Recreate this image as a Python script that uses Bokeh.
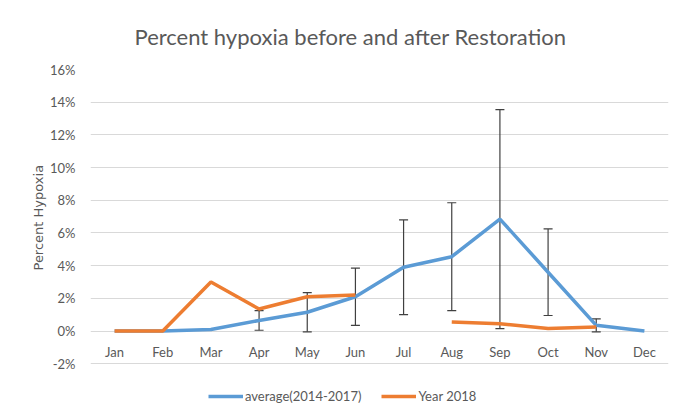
from bokeh.plotting import figure
from bokeh.models import (ColumnDataSource, FactorRange, Range1d, Whisker, TeeHead,
                          PrintfTickFormatter, Legend, LegendItem, FixedTicker, Title)
from bokeh.core.properties import value
from bokeh.embed import file_html
from bokeh.resources import INLINE

months = ["Jan", "Feb", "Mar", "Apr", "May", "Jun", "Jul", "Aug", "Sep", "Oct", "Nov", "Dec"]
average = [0.0, 0.0, 0.1, 0.65, 1.15, 2.1, 3.9, 4.55, 6.85, 3.6, 0.35, 0.0]
avg_err_months = ["Apr", "May", "Jun", "Jul", "Aug", "Sep", "Oct", "Nov"]
avg_err_mean = [0.65, 1.15, 2.1, 3.9, 4.55, 6.85, 3.6, 0.35]
avg_err = [0.6, 1.2, 1.75, 2.9, 3.3, 6.7, 2.65, 0.4]
year2018 = [0.0, 0.0, 3.0, 1.35, 2.1, 2.2, float("nan"), 0.55, 0.45, 0.15, 0.25, float("nan")]
y_ticks = [-2, 0, 2, 4, 6, 8, 10, 12, 14, 16]

FONT = "Lato"
GRAY = "#595959"
BLUE = "#5B9BD5"
ORANGE = "#ED7D31"

# y range extends below -2% so that the legend can sit inside the frame, under the last gridline
p = figure(width=670, height=412, x_range=FactorRange(*months), y_range=Range1d(-4.86, 16),
           output_backend="svg", toolbar_location=None,
           min_border_left=90, min_border_right=2, min_border_top=67, min_border_bottom=2)

p.title.text = "Percent hypoxia before and after Restoration"
p.title.text_font = FONT
p.title.text_font_size = "22px"
p.title.text_font_style = "normal"
p.title.text_color = GRAY
p.title.align = "left"
p.title.offset = 44
p.title.standoff = 40

p.outline_line_color = None
p.xaxis.visible = False
p.xgrid.grid_line_color = None
p.ygrid.grid_line_color = "#d9d9d9"
p.ygrid.grid_line_width = 1

yax = p.yaxis[0]
yax.ticker = FixedTicker(ticks=y_ticks)
yax.formatter = PrintfTickFormatter(format="%d%%")
yax.axis_line_color = None
yax.major_tick_line_color = None
yax.minor_tick_line_color = None
yax.major_label_text_font = FONT
yax.major_label_text_font_size = "13px"
yax.major_label_text_color = GRAY
yax.major_label_standoff = 9

ylabel = Title(text="Percent Hypoxia", align="left", offset=140, standoff=4,
               text_font="DejaVu Sans", text_font_size="13px", text_font_style="normal",
               text_color=GRAY)
p.add_layout(ylabel, "left")

src = ColumnDataSource(dict(month=months, avg=average, y2018=year2018, zero=[0] * 12))
r_avg = p.line("month", "avg", source=src, line_color=BLUE, line_width=3.5)
r_2018 = p.line("month", "y2018", source=src, line_color=ORANGE, line_width=3.5)

err_src = ColumnDataSource(dict(
    month=avg_err_months,
    upper=[m + e for m, e in zip(avg_err_mean, avg_err)],
    lower=[m - e for m, e in zip(avg_err_mean, avg_err)],
))
w = Whisker(source=err_src, base="month", upper="upper", lower="lower",
            line_color="#404040", line_width=1.2,
            upper_head=TeeHead(size=9, line_color="#404040", line_width=1.2),
            lower_head=TeeHead(size=9, line_color="#404040", line_width=1.2))
p.add_layout(w)

p.text("month", "zero", text="month", source=src, y_offset=21,
       text_font=value(FONT), text_font_size="13px", text_color=GRAY,
       text_align="center", text_baseline="middle")

legend = Legend(items=[LegendItem(label="average(2014-2017)", renderers=[r_avg]),
                       LegendItem(label="Year 2018", renderers=[r_2018])],
                orientation="horizontal", location=(118, 6),
                border_line_color=None, background_fill_alpha=0,
                label_text_font=FONT, label_text_font_size="13px", label_text_color=GRAY,
                glyph_width=35, glyph_height=12, label_standoff=2, spacing=20,
                padding=0, margin=0)
p.add_layout(legend, "center")

open("out.html", "w").write(file_html(p, INLINE))
